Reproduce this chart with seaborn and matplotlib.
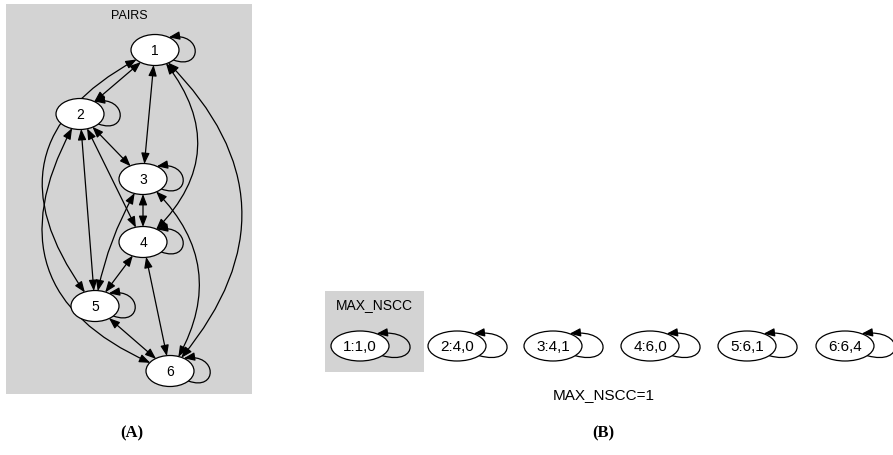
import numpy as np
import matplotlib.pyplot as plt
import seaborn as sns
from matplotlib.patches import Ellipse, Rectangle, FancyArrowPatch
from matplotlib.path import Path

# panel A: PAIRS graph (node positions in pixel space)
pair_nodes = ["1", "2", "3", "4", "5", "6"]
pair_x = [155, 80, 143, 143, 95, 170]
pair_y = [51, 115, 180, 243, 307, 372]
# bidirectional edges: (from, to, curvature)
pair_edges = [
    ("1", "2", 0.0), ("1", "3", 0.0), ("1", "4", -0.5), ("1", "5", 0.62),
    ("1", "6", -0.49), ("2", "3", 0.0), ("2", "4", 0.0), ("2", "5", 0.0),
    ("2", "6", 0.59), ("3", "4", 0.0), ("3", "5", 0.1), ("3", "6", -0.43),
    ("4", "5", 0.0), ("4", "6", 0.0), ("5", "6", 0.0),
]

# panel B: MAX_NSCC nodes
nscc_nodes = ["1:1,0", "2:4,0", "3:4,1", "4:6,0", "5:6,1", "6:6,4"]
nscc_x = [360, 457, 553, 650, 747, 845]
nscc_y = [347, 347, 347, 347, 347, 347]

sns.set_theme(style="white")
plt.rcParams["font.family"] = ["Liberation Sans", "DejaVu Sans"]
plt.rcParams["text.color"] = "black"

fig = plt.figure(figsize=(8.93, 4.56), dpi=100)
ax = fig.add_axes([0, 0, 1, 1])
ax.set_xlim(0, 893)
ax.set_ylim(456, 0)
ax.axis("off")

GRAY = "#d3d3d3"
LW = 0.9
ONE = "-|>,head_length=0.65,head_width=0.25"
TWO = "<|-|>,head_length=0.65,head_width=0.25"


def self_loop(cx, cy, a, b, reach):
    # loop leaves lower right of the node and re-enters upper right, heading left
    t0, t1 = np.radians(40), np.radians(55)
    p0 = (cx + a * np.cos(t0), cy + b * np.sin(t0))
    p3 = (cx + a * np.cos(t1), cy - b * np.sin(t1))
    p1 = (cx + a + reach, cy + 1.35 * b)
    p2 = (cx + a + reach, p3[1] - 0.35 * b)
    path = Path([p0, p1, p2, p3], [Path.MOVETO, Path.CURVE4, Path.CURVE4, Path.CURVE4])
    ax.add_patch(FancyArrowPatch(path=path, arrowstyle=ONE, mutation_scale=10,
                                 color="black", lw=LW, zorder=2,
                                 shrinkA=0, shrinkB=0))


def draw_nodes(labels, xs, ys, w, h, reach, fs):
    patches = {}
    for lab, x, y in zip(labels, xs, ys):
        e = Ellipse((x, y), w, h, facecolor="white", edgecolor="black",
                    lw=LW, zorder=3)
        ax.add_patch(e)
        ax.text(x, y, lab, ha="center", va="center", fontsize=fs, zorder=4)
        self_loop(x, y, w / 2, h / 2, reach)
        patches[lab] = e
    return patches


# ---- panel A ----
ax.add_patch(Rectangle((6, 5), 246, 390, facecolor=GRAY, edgecolor="none", zorder=0))
ax.text(129, 16, "PAIRS", ha="center", va="center", fontsize=9)
pa = draw_nodes(pair_nodes, pair_x, pair_y, 48, 31, 24, 10)
pos = {n: (x, y) for n, x, y in zip(pair_nodes, pair_x, pair_y)}
for s, t, rad in pair_edges:
    ax.add_patch(FancyArrowPatch(pos[s], pos[t], patchA=pa[s], patchB=pa[t],
                                 shrinkA=0, shrinkB=0, arrowstyle=TWO,
                                 connectionstyle=f"arc3,rad={rad}",
                                 mutation_scale=10, color="black", lw=LW, zorder=2))

# ---- panel B ----
ax.add_patch(Rectangle((325, 292), 99, 81, facecolor=GRAY, edgecolor="none", zorder=0))
ax.text(374, 305, "MAX_NSCC", ha="center", va="center", fontsize=10)
draw_nodes(nscc_nodes, nscc_x, nscc_y, 58, 30, 31, 11)
ax.text(604, 395, "MAX_NSCC=1", ha="center", va="center", fontsize=11)

# panel captions
for x, cap in [(132, "(A)"), (603, "(B)")]:
    ax.text(x, 433, cap, ha="center", va="center", fontsize=12,
            fontweight="bold", family="Liberation Serif")

fig.savefig("out.png", dpi=100)
